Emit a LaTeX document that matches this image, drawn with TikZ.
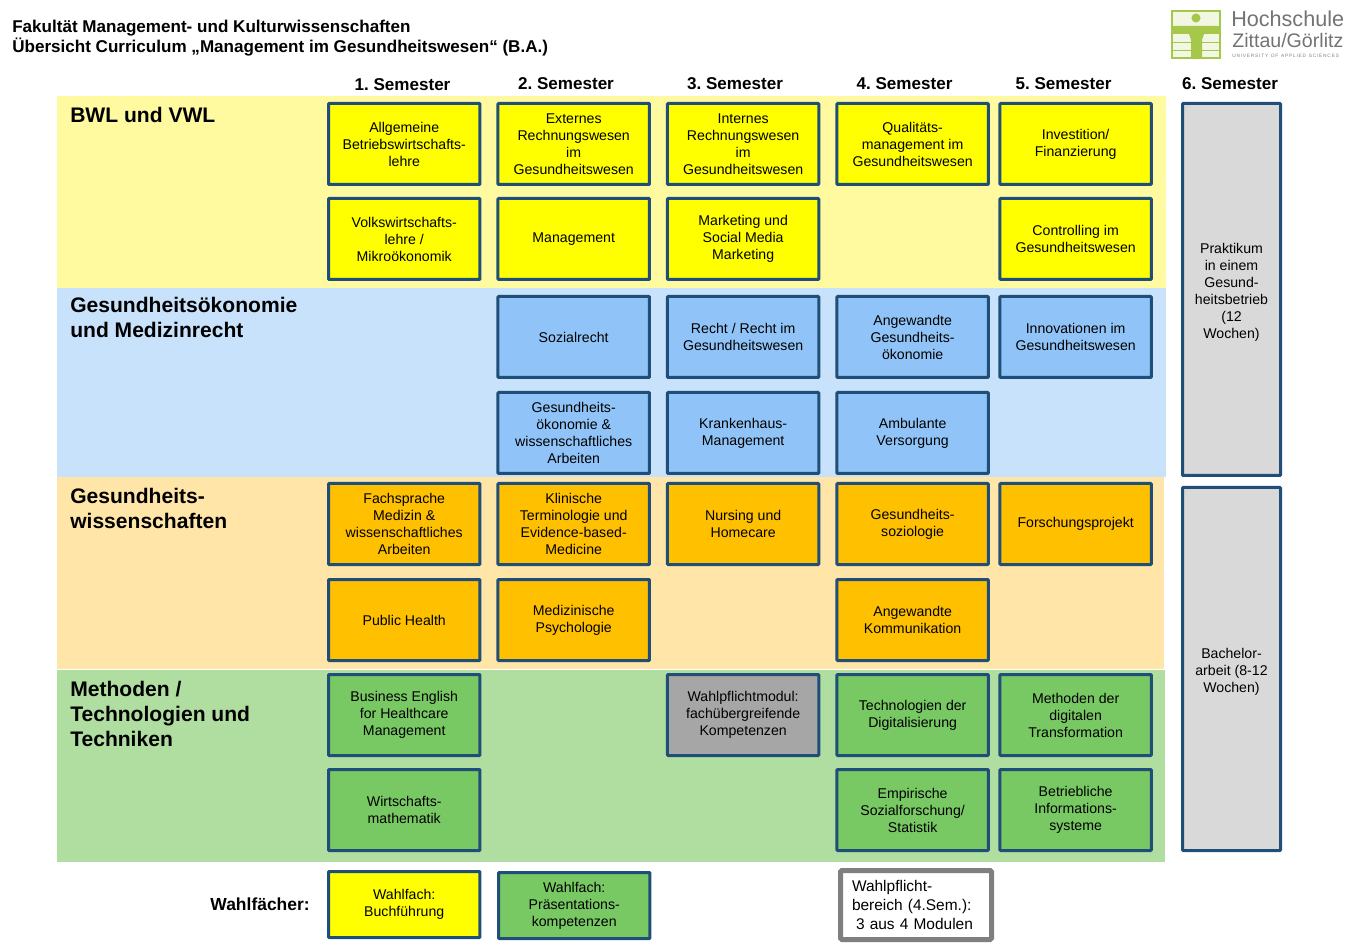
\documentclass[tikz,border=0pt]{standalone}
\usepackage{fontspec}
\setmainfont{Liberation Sans}
\usetikzlibrary{positioning}
\definecolor{framecol}{HTML}{1F4E79}
\definecolor{logogreen}{HTML}{A5C84B}
\definecolor{bwlcol}{RGB}{255,255,0}
\definecolor{gescol}{RGB}{144,196,248}
\definecolor{wiscol}{RGB}{255,192,0}
\definecolor{metcol}{RGB}{120,200,100}
\definecolor{wpcol}{RGB}{166,166,166}
\definecolor{semcol}{RGB}{217,217,217}
\definecolor{bwlband}{RGB}{255,250,160}
\definecolor{gesband}{RGB}{200,226,251}
\definecolor{wisband}{RGB}{255,229,168}
\definecolor{metband}{RGB}{176,222,160}
\definecolor{wpframe}{RGB}{127,127,127}
\tikzset{
	modbox/.style={draw=framecol,line width=2.25pt,rounded corners=.6pt,align=center,minimum width=113.6pt,minimum height=60.75pt,inner sep=0pt,font=\fontsize{10.6}{12.75}\selectfont},
	bwlbox/.style={modbox,fill=bwlcol},
	gesbox/.style={modbox,fill=gescol},
	wisbox/.style={modbox,fill=wiscol},
	metbox/.style={modbox,fill=metcol},
	sembox/.style={modbox,fill=semcol,minimum width=73.5pt},
	band/.style={anchor=north west,inner sep=0pt},
	bandlabel/.style={anchor=north west,inner sep=0pt,align=left,font=\fontsize{15.8}{18.75}\selectfont\bfseries},
	semhead/.style={font=\fontsize{12.8}{15}\selectfont\bfseries,inner sep=0pt}
}
\begin{document}
\frenchspacing
\begin{tikzpicture}[x=.75pt,y=.75pt]
	\useasboundingbox (0,0) rectangle (1368,-948);
	% background bands
	\node[band,fill=bwlband,minimum width=831.75pt,minimum height=144pt](bandbwl) at (57,-96){};
	\node[band,fill=gesband,minimum width=831.75pt,minimum height=141.75pt](bandges) at (57,-288){};
	\node[band,fill=wisband,minimum width=830.25pt,minimum height=144pt](bandwis) at (57,-477){};
	\node[band,fill=metband,minimum width=831pt,minimum height=144pt](bandmet) at (57,-670){};

	\node[bandlabel](lblbwl) at (70,-107){BWL und VWL};
	\node[bandlabel](lblges) at (70,-297){Gesundheitsökonomie\\und Medizinrecht};
	\node[bandlabel](lblwis) at (70,-488){Gesundheits-\\wissenschaften};
	\node[bandlabel](lblmet) at (70,-681){Methoden /\\Technologien und\\Techniken};

	% title
	\node[anchor=north west,inner sep=0pt,align=left,font=\fontsize{12.8}{15}\selectfont\bfseries](title) at (12,-20){Fakultät Management- und Kulturwissenschaften\\Übersicht Curriculum „Management im Gesundheitswesen“ (B.A.)};

	% top row
	\node[bwlbox,anchor=north west](a1) at (327,-102){Allgemeine\\Betriebswirtschafts-\\lehre};
	\node[bwlbox,right=11.25pt of a1](a2){Externes\\Rechnungswesen\\im\\Gesundheitswesen};
	\node[bwlbox,right=11.25pt of a2](a3){Internes\\Rechnungswesen\\im\\Gesundheitswesen};
	\node[bwlbox,right=11.25pt of a3](a4){Qualitäts-\\management im\\Gesundheitswesen};
	\node[bwlbox,right=6.4pt of a4](a5){Investition/\\Finanzierung};

	\node[bwlbox,below=8.25pt of a1](b1){Volkswirtschafts-\\lehre /\\Mikroökonomik};
	\node[bwlbox,below=8.25pt of a2](b2){Management};
	\node[bwlbox,below=8.25pt of a3](b3){Marketing und\\Social Media\\Marketing};
	\node[bwlbox,below=8.25pt of a5](b5){Controlling im\\Gesundheitswesen};

	\node[gesbox,below=10.5pt of b2](c2){Sozialrecht};
	\node[gesbox,below=10.5pt of b3](c3){Recht / Recht im\\Gesundheitswesen};
	\node[gesbox,right=11.25pt of c3](c4){Angewandte\\Gesundheits-\\ökonomie};
	\node[gesbox,below=10.5pt of b5](c5){Innovationen im\\Gesundheitswesen};

	\node[gesbox,below=9pt of c2](d2){Gesundheits-\\ökonomie \&\\wissenschaftliches\\Arbeiten};
	\node[gesbox,below=9pt of c3](d3){Krankenhaus-\\Management};
	\node[gesbox,below=9pt of c4](d4){Ambulante\\Versorgung};

	\node[wisbox,below=5.25pt of d2](e2){Klinische\\Terminologie und\\Evidence-based-\\Medicine};
	\node[wisbox,left=11.25pt of e2](e1){Fachsprache\\Medizin \&\\wissenschaftliches\\Arbeiten};
	\node[wisbox,below=5.25pt of d3](e3){Nursing und\\Homecare};
	\node[wisbox,below=5.25pt of d4](e4){Gesundheits-\\soziologie};
	\node[wisbox,right=6.4pt of e4](e5){Forschungsprojekt};

	\node[wisbox,below=9pt of e1](f1){Public Health};
	\node[wisbox,below=9pt of e2](f2){Medizinische\\Psychologie};
	\node[wisbox,below=9pt of e4](f4){Angewandte\\Kommunikation};

	\node[metbox,below=8.25pt of f1](g1){Business English\\for Healthcare\\Management};
	\node[modbox,fill=wpcol,below=8.25pt of f4,xshift=-127.1pt](g3){Wahlpflichtmodul:\\fachübergreifende\\Kompetenzen};
	\node[metbox,below=8.25pt of f4](g4){Technologien der\\Digitalisierung};
	\node[metbox,right=6.4pt of g4](g5){Methoden der\\digitalen\\Transformation};

	\node[metbox,below=8.25pt of g1](h1){Wirtschafts-\\mathematik};
	\node[metbox,below=8.25pt of g4](h4){Empirische\\Sozialforschung/\\Statistik};
	\node[metbox,below=8.25pt of g5](h5){Betriebliche\\Informations-\\systeme};

	% 6. Semester column
	\node[sembox,anchor=north west,minimum height=279pt](prak) at (1181,-102){\rule{0pt}{12pt}Praktikum\\in einem\\Gesund-\\heitsbetrieb\\(12\\Wochen)};
	\node[sembox,below=6.75pt of prak,minimum height=272.25pt](bach){\rule{0pt}{12pt}Bachelor-\\arbeit (8-12\\Wochen)};

	% headers
	\node[semhead](sem1) at (402.5,-85){1. Semester};
	\node[semhead](sem2) at (566,-84){2. Semester};
	\node[semhead](sem3) at (735,-84){3. Semester};
	\node[semhead](sem4) at (904.5,-84){4. Semester};
	\node[semhead](sem5) at (1063.5,-84){5. Semester};
	\node[semhead](sem6) at (1230,-84){6. Semester};

	% elective row
	\node[anchor=east,inner sep=0pt,font=\fontsize{13.1}{15}\selectfont\bfseries](wahl) at (310,-904){Wahlfächer:};
	\node[bwlbox,minimum height=49.5pt,anchor=north west](w1) at (327,-870){Wahlfach:\\Buchführung};
	\node[metbox,minimum height=49.5pt,anchor=north west](w2) at (497,-871){Wahlfach:\\Präsentations-\\kompetenzen};
	\node[draw=wpframe,fill=white,line width=3.75pt,rounded corners=1pt,anchor=north west,minimum width=113.25pt,minimum height=51.75pt,inner sep=0pt,text width=104pt,align=left,font=\fontsize{11.6}{14.25}\selectfont](wp) at (838,-868){\hspace*{4pt}Wahlpflicht-\\\hspace*{4pt}bereich (4.Sem.):\\\hspace*{7pt}3 aus 4 Modulen};

	% logo
	\draw[logogreen,line width=1.5pt,fill=logogreen!15] (1172,-11) rectangle (1220,-58);
	\foreach \yy in {-42,-50}
		\draw[logogreen,line width=.6pt] (1172,\yy) -- (1220,\yy);
	\fill[logogreen] (1196,-18) circle (3.4pt);
	\fill[logogreen] (1172,-26) -- (1220,-26) -- (1220,-34) -- (1204,-34) -- (1202,-40) -- (1202,-58) -- (1191,-58) -- (1191,-40) -- (1189,-34) -- (1172,-34) -- cycle;
	\node[anchor=west,inner sep=0pt,text=black!55,font=\fontsize{16.2}{18}\selectfont](logoa) at (1231,-19){Hochschule};
	\node[anchor=west,inner sep=0pt,text=black!55,font=\fontsize{14.7}{18}\selectfont](logob) at (1232,-40){Zittau/Görlitz};
	\node[anchor=west,inner sep=0pt,text=black!50,font=\fontsize{3.6}{5}\selectfont](logoc) at (1232,-56){U\,N\,I\,V\,E\,R\,S\,I\,T\,Y\ \ O\,F\ \ A\,P\,P\,L\,I\,E\,D\ \ S\,C\,I\,E\,N\,C\,E\,S};
\end{tikzpicture}
\end{document}
